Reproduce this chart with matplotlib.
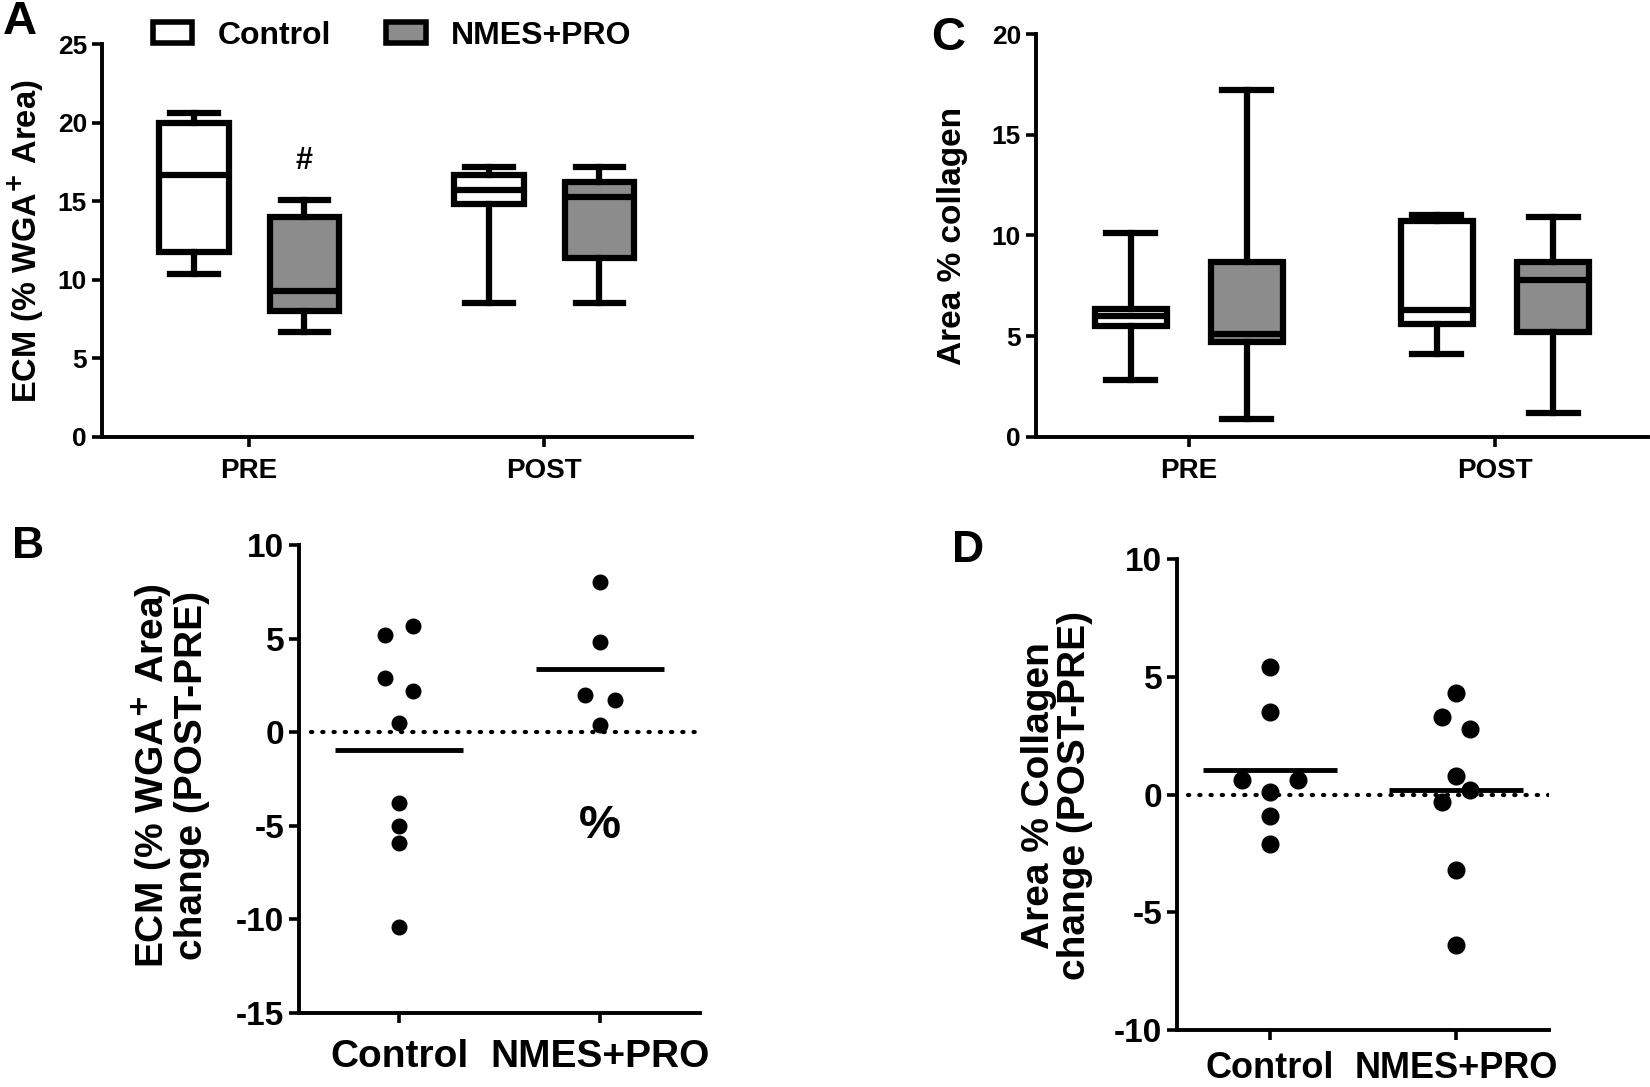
import numpy as np
import matplotlib.pyplot as plt
from matplotlib.patches import Patch

# ---- data ----
groups = ['PRE', 'POST']
# box stats per group: whisker low, q1, median, q3, whisker high
ecm_control = [[10.4, 11.8, 16.7, 20.0, 20.6], [8.5, 14.8, 15.7, 16.7, 17.2]]
ecm_nmes = [[6.7, 8.0, 9.3, 14.0, 15.1], [8.5, 11.4, 15.3, 16.2, 17.2]]
col_control = [[2.8, 5.5, 6.0, 6.35, 10.1], [4.1, 5.6, 6.3, 10.7, 11.0]]
col_nmes = [[0.9, 4.7, 5.1, 8.7, 17.2], [1.2, 5.2, 7.8, 8.7, 10.9]]

change_groups = ['Control', 'NMES+PRO']
ecm_change_control = [5.2, 5.7, 2.9, 2.2, 0.5, -3.8, -5.0, -5.9, -10.4]
ecm_change_nmes = [8.0, 4.8, 2.0, 1.7, 0.4]
col_change_control = [5.4, 3.5, 0.6, 0.6, 0.1, -0.9, -2.1]
col_change_nmes = [4.3, 3.3, 2.8, 0.8, 0.2, -0.3, -3.2, -6.4]

# horizontal spread of the dots (in units of the jitter step)
ecm_ctrl_side = [-1, 1, -1, 1, 0, 0, 0, 0, 0]
ecm_nmes_side = [0, 0, -1, 1, 0]
col_ctrl_side = [0, 0, -1, 1, 0, 0, 0]
col_nmes_side = [0, -1, 1, 0, 1, -1, 0, 0]

FONT = ['Liberation Sans', 'DejaVu Sans']
plt.rcParams['font.family'] = FONT
plt.rcParams['font.weight'] = 'bold'
plt.rcParams['axes.unicode_minus'] = False
GRAY = '#8c8c8c'
LW = 4.5


def style_axes(ax, fs):
    for s in ['top', 'right']:
        ax.spines[s].set_visible(False)
    for s in ['left', 'bottom']:
        ax.spines[s].set_linewidth(2.8)
    ax.tick_params(width=2.6, length=7, labelsize=fs, direction='out')
    for lab in ax.get_xticklabels() + ax.get_yticklabels():
        lab.set_fontweight('bold')


def stats(vals):
    lo, q1, med, q3, hi = vals
    return dict(whislo=lo, q1=q1, med=med, q3=q3, whishi=hi, fliers=[])


def boxes(ax, ctrl, nmes, off):
    pos = np.arange(len(groups))
    for data, shift, fc in [(ctrl, -off, 'white'), (nmes, off, GRAY)]:
        ax.bxp([stats(v) for v in data], positions=pos + shift, widths=0.235,
               capwidths=0.16, patch_artist=True, showfliers=False,
               boxprops=dict(facecolor=fc, edgecolor='black', linewidth=LW),
               medianprops=dict(color='black', linewidth=LW),
               whiskerprops=dict(color='black', linewidth=LW),
               capprops=dict(color='black', linewidth=LW))
    ax.set_xticks(pos)
    ax.set_xticklabels(groups)
    ax.set_xlim(-0.5, 1.5)


def dots(ax, ctrl, nmes, sides, step, half, ms):
    for i, (vals, side, st) in enumerate(zip([ctrl, nmes], sides, step)):
        x = i + np.array(side) * st
        ax.plot(x, vals, 'o', color='black', ms=ms, zorder=3)
        ax.hlines(np.mean(vals), i - half, i + half, color='black', lw=3.5, zorder=3)
    ax.axhline(0, xmin=0.03, xmax=1, color='black', lw=3.0,
               linestyle=(0, (0.3, 2.4)), dash_capstyle='round', zorder=1)
    ax.set_xticks([0, 1])
    ax.set_xticklabels(change_groups)
    ax.set_xlim(-0.5, 1.5)


fig = plt.figure(figsize=(16.5, 10.87), dpi=100)

# A
axA = fig.add_axes([0.0616, 0.5982, 0.3576, 0.3610])
boxes(axA, ecm_control, ecm_nmes, 0.187)
axA.set_ylim(0, 25)
axA.set_yticks(range(0, 26, 5))
style_axes(axA, 19)
axA.tick_params(axis='x', labelsize=20, pad=8)
axA.text(0.187, 17.6, '#', ha='center', va='center', fontsize=22, fontweight='bold')
handles = [Patch(facecolor='white', edgecolor='black', linewidth=4),
           Patch(facecolor=GRAY, edgecolor='black', linewidth=4)]
fig.legend(handles, ['Control', 'NMES+PRO'], loc='center left',
           bbox_to_anchor=(0.075, 1 - 36 / 1087), ncol=2, frameon=False,
           prop=dict(weight='bold', size=23),
           handlelength=1.25, handleheight=0.62, columnspacing=1.7, handletextpad=0.8)
fig.text(26 / 1650, 1 - 241 / 1087, 'ECM (% WGA$^{\\mathbf{+}}$ Area)', rotation=90,
         ha='center', va='center', fontsize=23.5, fontweight='bold')

# C
axC = fig.add_axes([0.6277, 0.5982, 0.3711, 0.3705])
boxes(axC, col_control, col_nmes, 0.19)
axC.set_ylim(0, 20)
axC.set_yticks(range(0, 21, 5))
style_axes(axC, 19)
axC.tick_params(axis='x', labelsize=20, pad=8)
fig.text(952 / 1650, 1 - 236 / 1087, 'Area % collagen', rotation=90,
         ha='center', va='center', fontsize=24, fontweight='bold')

# B
axB = fig.add_axes([0.1812, 0.0681, 0.2430, 0.4305])
dots(axB, ecm_change_control, ecm_change_nmes, [ecm_ctrl_side, ecm_nmes_side],
     [0.07, 0.075], 0.32, 10.5)
axB.set_ylim(-15, 10)
axB.set_yticks(range(-15, 11, 5))
style_axes(axB, 24)
axB.tick_params(axis='x', labelsize=28, pad=12)
axB.text(1, -5.0, '%', ha='center', va='center', fontsize=34, fontweight='bold')
fig.text(170 / 1650, 1 - 776 / 1087, 'ECM (% WGA$^{\\mathbf{+}}$ Area)\nchange (POST-PRE)',
         rotation=90, ha='center', va='center', fontsize=28, fontweight='bold',
         linespacing=1.0)

# D
axD = fig.add_axes([0.7132, 0.0524, 0.2256, 0.4333])
dots(axD, col_change_control, col_change_nmes, [col_ctrl_side, col_nmes_side],
     [0.15, 0.077], 0.36, 12)
axD.set_ylim(-10, 10)
axD.set_yticks(range(-10, 11, 5))
style_axes(axD, 24)
axD.tick_params(axis='x', labelsize=26, pad=8)
fig.text(1057 / 1650, 1 - 796 / 1087, 'Area % Collagen\nchange (POST-PRE)',
         rotation=90, ha='center', va='center', fontsize=28, fontweight='bold',
         linespacing=1.0)

# panel letters
for letter, x, y, fs in [('A', 20, 22, 34), ('C', 948, 38, 34), ('B', 28, 547, 32), ('D', 968, 550, 32)]:
    fig.text(x / 1650, 1 - y / 1087, letter, ha='center', va='center',
             fontsize=fs, fontweight='bold')

fig.savefig('out.png', dpi=100)
